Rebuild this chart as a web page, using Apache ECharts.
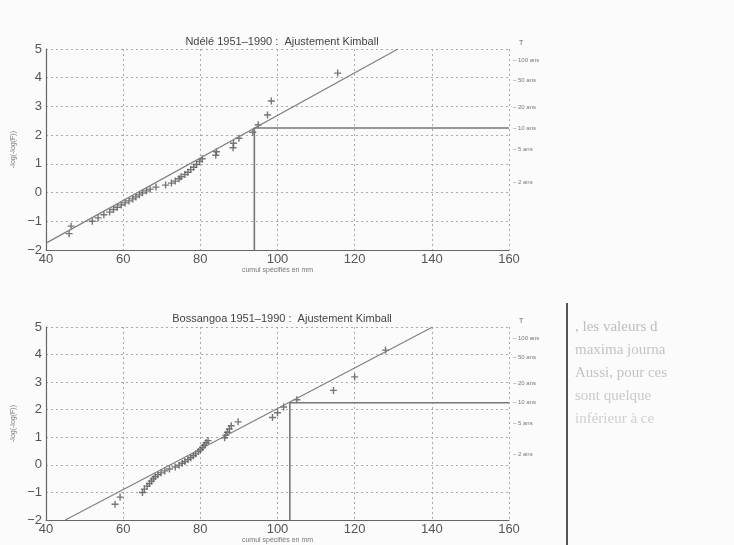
<!doctype html>
<html>
<head>
<meta charset="utf-8">
<title>Ajustement Kimball</title>
<script src="https://cdn.jsdelivr.net/npm/echarts@6/dist/echarts.min.js"></script>
<style>
html, body { margin: 0; padding: 0; background: #fbfbfb; }
#main { width: 734px; height: 545px; }
</style>
</head>
<body>
<div id="main"></div>
<script>
var reduite = [-1.43, -1.17, -1.00, -0.88, -0.77, -0.68, -0.59, -0.51, -0.43, -0.36,
  -0.29, -0.22, -0.15, -0.08, -0.01, 0.06, 0.12, 0.19, 0.26, 0.33,
  0.40, 0.48, 0.55, 0.63, 0.71, 0.80, 0.88, 0.98, 1.08, 1.18,
  1.30, 1.42, 1.56, 1.72, 1.89, 2.10, 2.36, 2.70, 3.19, 4.16];

// cumuls classes, Ndele
var pluieNdele = [46.0, 46.5, 52.0, 53.5, 55.0, 56.5, 57.5, 58.5, 59.5, 60.5,
  61.5, 62.5, 63.3, 64.2, 65.0, 66.0, 67.0, 68.5, 71.0, 72.5,
  73.5, 74.5, 75.0, 76.0, 76.8, 77.5, 78.3, 79.0, 79.8, 80.5,
  84.0, 84.2, 88.5, 88.6, 90.0, 93.6, 95.0, 97.4, 98.4, 115.6];

// cumuls classes, Bossangoa
var pluieBossangoa = [57.9, 59.2, 65.0, 65.5, 66.2, 66.8, 67.3, 67.8, 68.3, 69.0,
  69.8, 70.8, 72.0, 73.5, 74.5, 75.3, 76.0, 76.8, 77.5, 78.2,
  78.8, 79.5, 80.0, 80.6, 81.0, 81.5, 82.0, 86.3, 86.6, 87.0,
  87.5, 88.0, 89.8, 98.7, 100.0, 101.6, 105.0, 114.5, 120.0, 128.0];

// droites ajustees et lecture de la crue decennale
var droiteNdele = [[40, -1.76], [131.2, 5]];
var decNdele = [[94, -2], [94, 2.25], [160, 2.25]];
var droiteBossangoa = [[45, -2], [140.2, 5]];
var decBossangoa = [[103.2, -2], [103.2, 2.25], [160, 2.25]];

// axe des periodes de retour
var periodeVal = [0.37, 1.50, 2.25, 2.97, 3.90, 4.60];
var periodeTxt = ['2 ans', '5 ans', '10 ans', '20 ans', '50 ans', '100 ans'];

var titres = ['Ndélé 1951–1990 :  Ajustement Kimball', 'Bossangoa 1951–1990 :  Ajustement Kimball'];

function pts(xs) {
  return xs.map(function (x, i) { return [x, reduite[i]]; });
}

var fontF = 'Liberation Sans, Arial, sans-serif';
var plus = 'path://M4,0H6V4H10V6H6V10H4V6H0V4H4Z';

function xAx(gi) {
  return {
    gridIndex: gi, type: 'value', min: 40, max: 160, interval: 20,
    name: 'cumul spécifiés en mm', nameLocation: 'middle', nameGap: 17,
    nameTextStyle: { fontSize: 7, color: '#777', fontFamily: fontF },
    axisLine: { onZero: false, lineStyle: { color: '#666', width: 1.2 } },
    axisTick: { show: false },
    axisLabel: { fontSize: 13, color: '#555', fontFamily: fontF, margin: 3 },
    splitLine: { lineStyle: { type: [2, 3], color: '#aaa' } }
  };
}
function yAx(gi) {
  return {
    gridIndex: gi, type: 'value', min: -2, max: 5, interval: 1,
    name: '-log(-log(F))', nameLocation: 'middle', nameGap: 28,
    nameTextStyle: { fontSize: 7, color: '#777', fontFamily: fontF },
    axisLine: { show: true, onZero: false, lineStyle: { color: '#666', width: 1.2 } },
    axisTick: { show: false },
    axisLabel: { fontSize: 13, color: '#555', fontFamily: fontF, margin: 4,
      formatter: function (v) { return v < 0 ? '−' + (-v) : '' + v; } },
    splitLine: { lineStyle: { type: [2, 3], color: '#aaa' } }
  };
}
function yRet(gi) {
  return {
    gridIndex: gi, type: 'value', min: -2, max: 5, position: 'right',
    name: 'T', nameGap: 2,
    nameTextStyle: { fontSize: 7, color: '#666', fontFamily: fontF, align: 'left', padding: [0, 0, 0, 10] },
    axisLine: { show: false },
    axisTick: { show: false },
    splitLine: { show: false },
    axisLabel: {
      customValues: periodeVal, fontSize: 6, color: '#777', fontFamily: fontF, margin: 4,
      formatter: function (v) { return '– ' + periodeTxt[periodeVal.indexOf(v)]; }
    }
  };
}
function serie(gi, data, droite, dec) {
  return [
    { type: 'line', xAxisIndex: gi, yAxisIndex: gi * 2, data: droite, symbol: 'none',
      lineStyle: { color: '#808080', width: 1.2 }, silent: true },
    { type: 'line', xAxisIndex: gi, yAxisIndex: gi * 2, data: dec, symbol: 'none',
      lineStyle: { color: '#777', width: 1.6 }, silent: true },
    { type: 'scatter', xAxisIndex: gi, yAxisIndex: gi * 2, data: pts(data),
      symbol: plus, symbolSize: 7, itemStyle: { color: '#555' } }
  ];
}

var chart = echarts.init(document.getElementById('main'));
chart.setOption({
  backgroundColor: '#fbfbfb',
  animation: false,
  title: [
    { text: titres[0], left: 277, top: 31, textAlign: 'center',
      textStyle: { fontSize: 11, fontWeight: 'normal', color: '#444', fontFamily: fontF } },
    { text: titres[1], left: 277, top: 308, textAlign: 'center',
      textStyle: { fontSize: 11, fontWeight: 'normal', color: '#444', fontFamily: fontF } }
  ],
  grid: [
    { left: 46, top: 49, width: 463, height: 201 },
    { left: 46, top: 327, width: 463, height: 201 }
  ],
  xAxis: [xAx(0), xAx(1)],
  yAxis: [yAx(0), yRet(0), yAx(1), yRet(1)],
  series: serie(0, pluieNdele, droiteNdele, decNdele)
    .concat(serie(1, pluieBossangoa, droiteBossangoa, decBossangoa)),
  graphic: [
    { type: 'line', shape: { x1: 567, y1: 303, x2: 567, y2: 545 },
      style: { stroke: '#555', lineWidth: 2 } },
    { type: 'text', left: 575, top: 320,
      style: { text: ', les valeurs d', fontSize: 15, fill: '#bdbdbd', fontFamily: 'Liberation Serif, serif' } },
    { type: 'text', left: 575, top: 343,
      style: { text: 'maxima journa', fontSize: 15, fill: '#c4c4c4', fontFamily: 'Liberation Serif, serif' } },
    { type: 'text', left: 575, top: 366,
      style: { text: 'Aussi, pour ces', fontSize: 15, fill: '#c4c4c4', fontFamily: 'Liberation Serif, serif' } },
    { type: 'text', left: 575, top: 389,
      style: { text: 'sont quelque', fontSize: 15, fill: '#cacaca', fontFamily: 'Liberation Serif, serif' } },
    { type: 'text', left: 575, top: 412,
      style: { text: 'inférieur à ce', fontSize: 15, fill: '#d0d0d0', fontFamily: 'Liberation Serif, serif' } }
  ]
});
</script>
</body>
</html>
